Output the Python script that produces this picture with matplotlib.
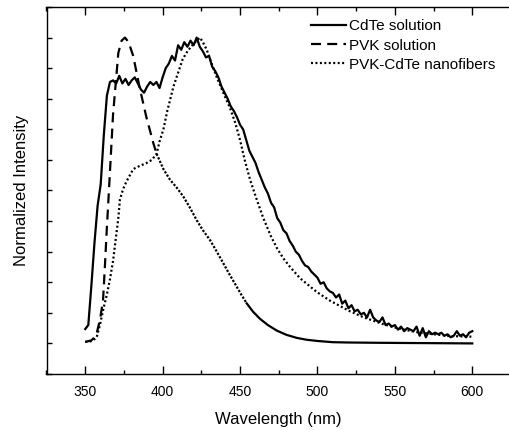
import numpy as np
import matplotlib
matplotlib.use("Agg")
import matplotlib.pyplot as plt
from matplotlib.ticker import MultipleLocator, NullFormatter

plt.rcParams["font.family"] = ["Liberation Sans", "DejaVu Sans"]

# CdTe solution: noisy spectrum sampled every 2 nm from 350 to 600 nm
cdte_wl = np.arange(350, 602, 2)
cdte_int = [
    0.047, 0.06, 0.19, 0.33, 0.45, 0.52, 0.68, 0.81, 0.855, 0.86,
    0.85, 0.875, 0.85, 0.865, 0.845, 0.86, 0.87, 0.85, 0.83, 0.82,
    0.84, 0.855, 0.845, 0.855, 0.835, 0.87, 0.90, 0.915, 0.94, 0.925,
    0.975, 0.96, 0.985, 0.97, 0.99, 0.975, 1.0, 0.97, 0.955, 0.935,
    0.94, 0.905, 0.89, 0.87, 0.84, 0.82, 0.80, 0.775, 0.76, 0.74,
    0.715, 0.70, 0.665, 0.63, 0.61, 0.59, 0.56, 0.535, 0.51, 0.49,
    0.46, 0.445, 0.41, 0.395, 0.37, 0.36, 0.335, 0.32, 0.30, 0.29,
    0.27, 0.255, 0.25, 0.235, 0.225, 0.215, 0.195, 0.20, 0.18, 0.17,
    0.165, 0.15, 0.16, 0.13, 0.14, 0.115, 0.125, 0.105, 0.11, 0.095,
    0.10, 0.085, 0.11, 0.085, 0.075, 0.07, 0.085, 0.06, 0.065, 0.055,
    0.06, 0.045, 0.055, 0.04, 0.05, 0.045, 0.04, 0.055, 0.025, 0.05,
    0.02, 0.04, 0.03, 0.035, 0.03, 0.035, 0.025, 0.03, 0.02, 0.025,
    0.04, 0.025, 0.03, 0.02, 0.035, 0.04,
]

# PVK solution
pvk_wl = [350, 354, 356, 357.5, 359.5, 361.5, 362.7, 364, 365, 368,
          371.4, 373.5, 375.7, 378, 381, 385, 389.5, 394, 396.1, 400.5,
          404.8, 409, 413.4, 417.5, 422, 426, 430.6, 435, 439.2, 443.5,
          447.9, 451, 454.3, 458.5, 463, 468, 473.7, 480, 486.7, 493,
          500, 510, 520, 540, 570, 600]
pvk_int = [0.005, 0.01, 0.02, 0.035, 0.076, 0.14, 0.25, 0.38, 0.47, 0.75,
           0.95, 0.99, 1.0, 0.985, 0.94, 0.84, 0.74, 0.655, 0.62, 0.57,
           0.535, 0.51, 0.48, 0.445, 0.403, 0.37, 0.338, 0.30, 0.262, 0.223,
           0.185, 0.158, 0.131, 0.103, 0.08, 0.06, 0.042, 0.028, 0.018, 0.012,
           0.008, 0.004, 0.003, 0.002, 0.001, 0.0]

# PVK-CdTe nanofibers
fib_wl = [350, 353, 355, 357.4, 359.5, 361.6, 364, 366, 368, 369.2,
          371.4, 372.4, 374.5, 376.7, 381, 385, 389.7, 393, 396.1, 398,
          400.5, 403, 405, 407, 409, 411, 413, 416, 420, 424.1,
          426, 428.5, 432, 435, 440, 443.5, 447, 450, 453, 456.5,
          460.8, 465, 470, 474, 478, 482.3, 488.8, 499.6, 508, 521,
          530, 542.5, 553, 564, 575, 585.7, 600]
fib_int = [0.005, 0.006, 0.01, 0.02, 0.06, 0.11, 0.16, 0.21, 0.27, 0.32,
           0.41, 0.47, 0.505, 0.53, 0.57, 0.58, 0.59, 0.60, 0.62, 0.66,
           0.70, 0.76, 0.80, 0.84, 0.87, 0.90, 0.93, 0.955, 0.98, 1.0,
           0.985, 0.96, 0.91, 0.87, 0.81, 0.77, 0.72, 0.665, 0.60, 0.535,
           0.47, 0.41, 0.35, 0.31, 0.278, 0.25, 0.213, 0.168, 0.14, 0.105,
           0.085, 0.063, 0.048, 0.037, 0.03, 0.024, 0.022]

labels = ["CdTe solution", "PVK solution", "PVK-CdTe nanofibers"]

fig = plt.figure(figsize=(5.09, 4.30), dpi=100)
W, H = 509, 430
ax = fig.add_axes([46.5 / W, 1 - 374 / H, (511 - 46.5) / W, (374 - 7) / H])

lw = 1.6
ax.plot(cdte_wl, cdte_int, color="black", lw=lw, label=labels[0])

# PVK trace: long dashes over the peak, short dense dashes down the slope,
# then it reads as a plain line along the tail
pvk_wl = np.array(pvk_wl)
pvk_int = np.array(pvk_int)
head = pvk_wl <= 396.1
mid = (pvk_wl >= 396.1) & (pvk_wl <= 454.3)
tail = pvk_wl >= 454.3
ax.plot(pvk_wl[head], pvk_int[head], color="black", lw=lw,
        dashes=(4.5, 2.8), label=labels[1])
ax.plot(pvk_wl[mid], pvk_int[mid], color="black", lw=lw, dashes=(1.0, 0.75))
ax.plot(pvk_wl[tail], pvk_int[tail], color="black", lw=lw)

ax.plot(fib_wl, fib_int, color="black", lw=lw, dashes=(0.9, 1.1),
        label=labels[2])

ax.set_xlim(325, 625)
ax.set_ylim(-0.1, 1.1)
ax.xaxis.set_major_locator(MultipleLocator(50))
ax.xaxis.set_minor_locator(MultipleLocator(25))
ax.yaxis.set_major_locator(MultipleLocator(0.1))
ax.yaxis.set_major_formatter(NullFormatter())

ax.tick_params(axis="x", which="major", direction="in", length=5.5, width=1,
               top=True, labelsize=10, pad=8)
ax.tick_params(axis="x", which="minor", direction="in", length=3, width=1,
               top=True)
ax.tick_params(axis="y", which="major", direction="in", length=3.5, width=1,
               right=False)
ax.spines["right"].set_visible(False)
for s in ["left", "bottom", "top"]:
    ax.spines[s].set_linewidth(1)

ax.set_xlabel("Wavelength (nm)", fontsize=12, labelpad=9)
ax.set_ylabel("Normalized Intensity", fontsize=12, labelpad=9)

ax.legend(loc="upper left", bbox_to_anchor=(311 / W, 1 - 19.5 / H),
          bbox_transform=fig.transFigure, frameon=False, fontsize=11,
          borderpad=0, borderaxespad=0, handlelength=2.3, handletextpad=0.2,
          labelspacing=0.33)

fig.savefig("out.png", dpi=100)
